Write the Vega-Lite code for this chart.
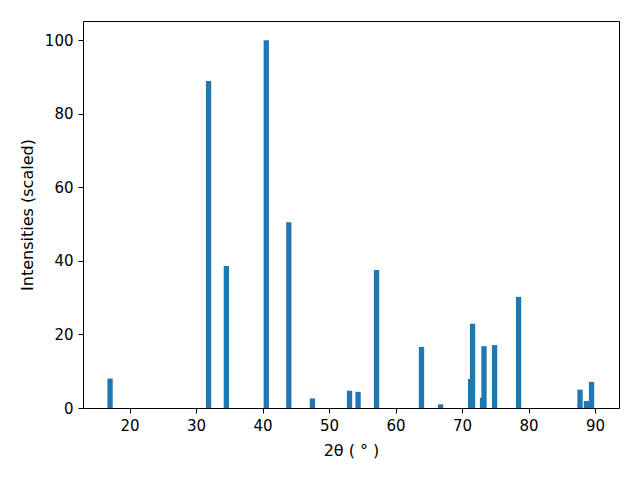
{
  "$schema": "https://vega.github.io/schema/vega-lite/v6.json",
  "width": 536,
  "height": 387,
  "autosize": {"type": "none"},
  "padding": {"left": 83, "top": 21, "right": 21, "bottom": 72},
  "background": "white",
  "config": {
    "view": {"stroke": "black", "strokeWidth": 1},
    "font": "DejaVu Sans",
    "axis": {
      "grid": false,
      "domain": false,
      "tickColor": "black",
      "tickSize": 5,
      "tickWidth": 1,
      "labelColor": "black",
      "labelFont": "DejaVu Sans",
      "labelFontSize": 15,
      "labelPadding": 5,
      "titleColor": "black",
      "titleFont": "DejaVu Sans",
      "titleFontSize": 16,
      "titleFontWeight": "normal"
    }
  },
  "data": {
    "values": [
      {"two_theta": 17.07, "intensity": 8.0},
      {"two_theta": 31.88, "intensity": 88.9},
      {"two_theta": 34.56, "intensity": 38.6},
      {"two_theta": 40.56, "intensity": 100},
      {"two_theta": 43.95, "intensity": 50.5},
      {"two_theta": 47.5, "intensity": 2.6},
      {"two_theta": 53.08, "intensity": 4.7},
      {"two_theta": 54.36, "intensity": 4.4},
      {"two_theta": 57.14, "intensity": 37.5},
      {"two_theta": 63.9, "intensity": 16.6},
      {"two_theta": 66.77, "intensity": 1.0},
      {"two_theta": 71.28, "intensity": 7.9},
      {"two_theta": 71.58, "intensity": 22.9},
      {"two_theta": 73.08, "intensity": 2.8},
      {"two_theta": 73.3, "intensity": 16.8},
      {"two_theta": 74.89, "intensity": 17.1},
      {"two_theta": 78.5, "intensity": 30.2},
      {"two_theta": 87.74, "intensity": 5.0},
      {"two_theta": 88.7, "intensity": 1.9},
      {"two_theta": 89.47, "intensity": 7.1}
    ]
  },
  "mark": {"type": "bar", "color": "#1f77b4", "width": 5.3},
  "encoding": {
    "x": {
      "field": "two_theta",
      "type": "quantitative",
      "scale": {"domain": [13.0, 93.6], "nice": false, "zero": false, "padding": 0},
      "axis": {"values": [20, 30, 40, 50, 60, 70, 80, 90], "title": "2θ ( ° )", "titlePadding": 9}
    },
    "y": {
      "field": "intensity",
      "type": "quantitative",
      "scale": {"domain": [0, 105.2], "nice": false},
      "axis": {"values": [0, 20, 40, 60, 80, 100], "title": "Intensities (scaled)", "titlePadding": 9}
    }
  }
}
